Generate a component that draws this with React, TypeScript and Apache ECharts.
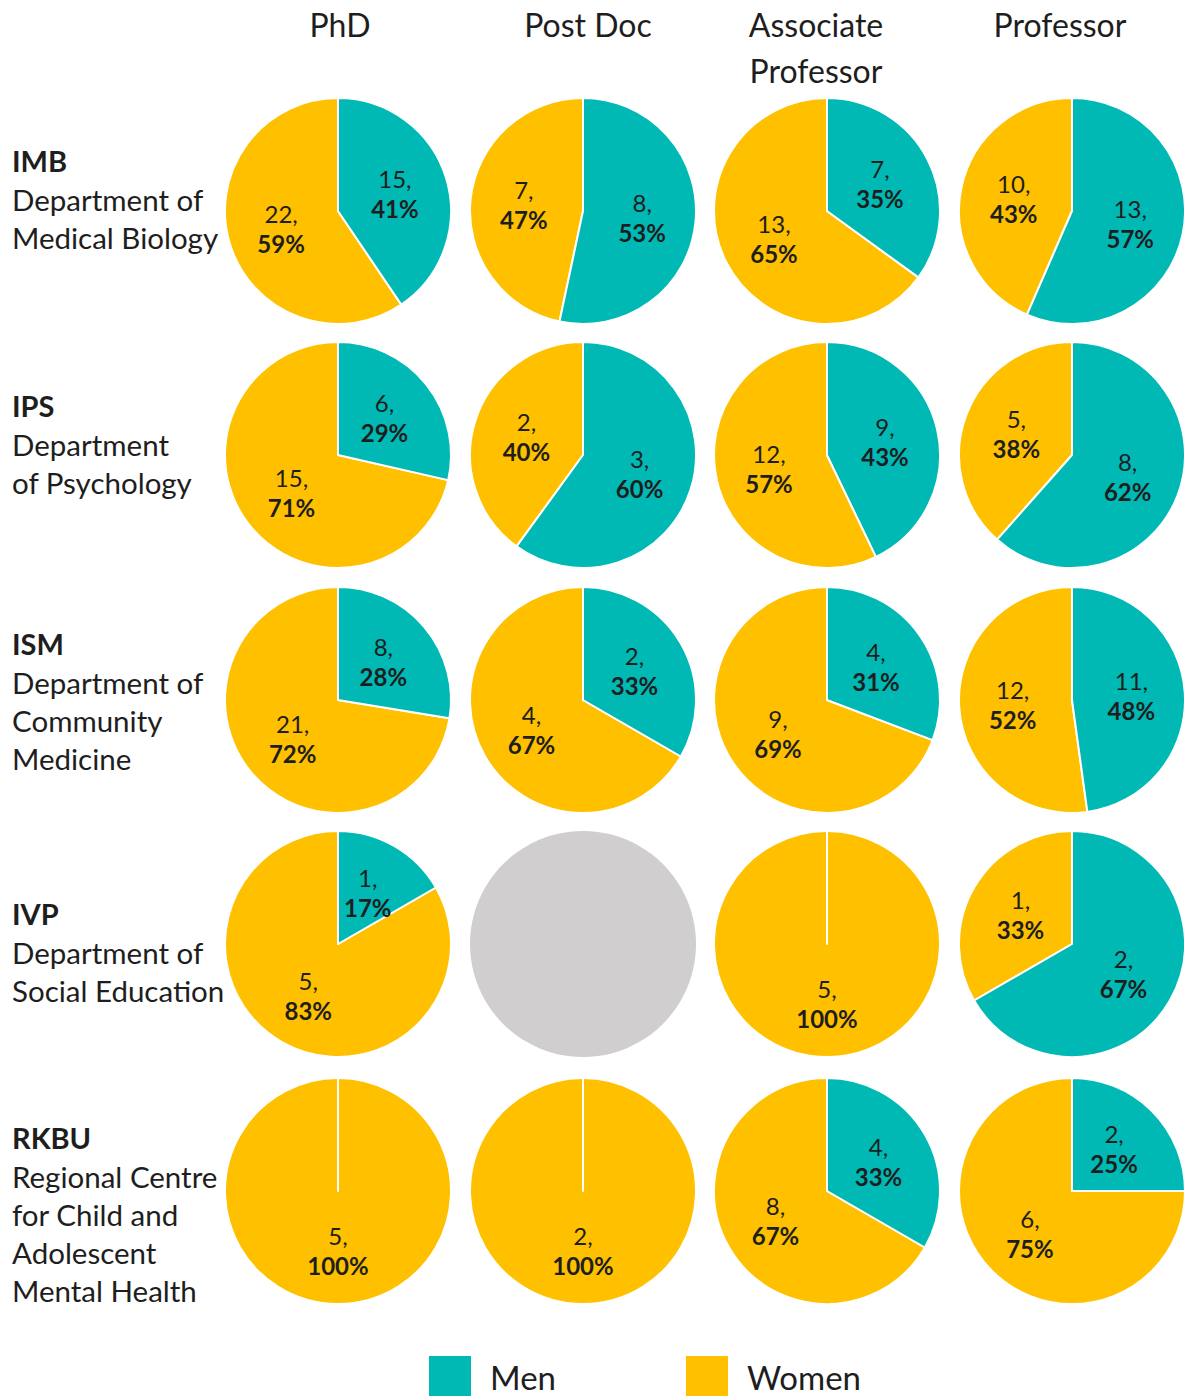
import React, { useEffect, useRef } from 'react';
import * as echarts from 'echarts';

// ---- Data ----
const positions = ['PhD', 'Post Doc', 'Associate\nProfessor', 'Professor'];
const deptCodes = ['IMB', 'IPS', 'ISM', 'IVP', 'RKBU'];
const deptNames = [
  ['Department of', 'Medical Biology'],
  ['Department', 'of Psychology'],
  ['Department of', 'Community', 'Medicine'],
  ['Department of', 'Social Education'],
  ['Regional Centre', 'for Child and', 'Adolescent', 'Mental Health'],
];
const genders = ['Men', 'Women'];
// rows = departments, columns = positions; null = no data
const menCounts: (number | null)[][] = [
  [15, 8, 7, 13],
  [6, 3, 9, 8],
  [8, 2, 4, 11],
  [1, null, 0, 2],
  [0, 0, 4, 2],
];
const womenCounts: (number | null)[][] = [
  [22, 7, 13, 10],
  [15, 2, 12, 5],
  [21, 4, 9, 12],
  [5, null, 5, 1],
  [5, 2, 8, 6],
];

// ---- Layout / style ----
const COL_X = [338, 583, 827, 1072];
const HEADER_X = [340, 588, 816, 1060];
const ROW_Y = [211, 455, 700, 944, 1191];
const LABEL_TOP = [140, 385, 623, 893, 1117];
const RADIUS = 113;
const TEAL = '#00B9B4';
const YELLOW = '#FFC000';
const GREY = '#D0CECE';
const TEXT = '#1E1E1E';
const FONT = 'Lato';

export default function App() {
  const ref = useRef<HTMLDivElement>(null);

  useEffect(() => {
    if (!ref.current) return;
    const chart = echarts.init(ref.current, undefined, { renderer: 'svg' });

    const series: any[] = [];
    deptCodes.forEach((_, r) => {
      positions.forEach((__, c) => {
        const m = menCounts[r][c];
        const w = womenCounts[r][c];
        // Women first, drawn counter-clockwise from 12 o'clock, so that Men
        // ends up clockwise from 12 o'clock and is drawn on top.
        const items = [
          { name: genders[1], value: w ?? 0, color: YELLOW },
          { name: genders[0], value: m ?? 0, color: TEAL },
        ];
        const data =
          m == null && w == null
            ? []
            : items.map((it) => ({
                name: it.name,
                value: it.value,
                itemStyle: { color: it.color },
                label: { show: it.value > 0 },
              }));
        series.push({
          type: 'pie',
          center: [COL_X[c], ROW_Y[r]],
          radius: RADIUS,
          startAngle: 90,
          clockwise: false,
          percentPrecision: 0,
          stillShowZeroSum: false,
          showEmptyCircle: true,
          emptyCircleStyle: { color: GREY, opacity: 1 },
          itemStyle: { borderColor: '#ffffff', borderWidth: 2 },
          emphasis: { disabled: true },
          labelLine: { show: false },
          label: {
            position: 'inside',
            formatter: (p: any) => `{n|${p.value},}\n{p|${p.percent}%}`,
            rich: {
              n: { fontFamily: FONT, fontSize: 24, color: TEXT, lineHeight: 30 },
              p: { fontFamily: FONT, fontSize: 24, fontWeight: 'bold', color: TEXT, lineHeight: 30 },
            },
          },
          data,
        });
      });
    });

    const graphics: any[] = [];
    positions.forEach((p, c) => {
      graphics.push({
        type: 'text',
        x: HEADER_X[c],
        y: 1,
        style: {
          text: p,
          fontFamily: FONT,
          fontSize: 32,
          lineHeight: 46,
          fill: TEXT,
          align: 'center',
          verticalAlign: 'top',
        },
      });
    });
    deptCodes.forEach((code, r) => {
      const lines = [`{b|${code}}`, ...deptNames[r].map((s) => `{n|${s}}`)];
      graphics.push({
        type: 'text',
        x: 12,
        y: LABEL_TOP[r],
        style: {
          text: lines.join('\n'),
          align: 'left',
          verticalAlign: 'top',
          rich: {
            b: { fontFamily: FONT, fontSize: 29, fontWeight: 'bold', fill: TEXT, lineHeight: 40 },
            n: { fontFamily: FONT, fontSize: 29.5, fill: TEXT, lineHeight: 38 },
          },
        },
      });
    });

    chart.setOption({
      animation: false,
      color: [TEAL, YELLOW],
      legend: {
        data: genders,
        left: 429,
        top: 1356,
        padding: 0,
        icon: 'rect',
        itemWidth: 42,
        itemHeight: 42,
        itemGap: 130,
        selectedMode: false,
        itemStyle: { borderWidth: 0 },
        textStyle: {
          fontFamily: FONT,
          fontSize: 33,
          lineHeight: 33,
          color: TEXT,
          padding: [0, 0, 0, 14],
        },
      },
      graphic: graphics,
      series,
    });

    return () => chart.dispose();
  }, []);

  return (
    <div
      ref={ref}
      style={{ position: 'absolute', left: 0, top: 0, width: 1184, height: 1396, background: '#fff' }}
    />
  );
}
